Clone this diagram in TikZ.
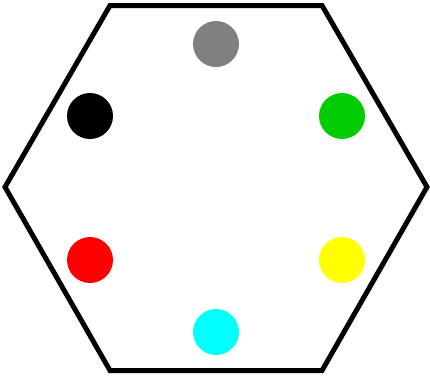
\documentclass[tikz,border=0pt]{standalone}
\begin{document}
\begin{tikzpicture}[x=1pt,y=-1pt,
  dot/.style={circle,inner sep=0pt,minimum size=46pt,draw=none}]
\useasboundingbox (0,0) rectangle (430,376);
\draw[line width=5pt,line join=miter] (110,5.5) -- (322,5.5) -- (427,187) -- (322,370.5) -- (110,370.5) -- (5,187) -- cycle;
\definecolor{cgreen}{RGB}{0,204,0}
\definecolor{cgray}{RGB}{128,128,128}
\definecolor{ccyan}{RGB}{0,255,255}
\definecolor{cyellow}{RGB}{255,255,0}
\definecolor{cred}{RGB}{255,0,0}
\node[dot,fill=cgray] (gray) at (216,44) {};
\node[dot,fill=cgreen] (green) at (342,116) {};
\node[dot,fill=cyellow] (yellow) at (342,260) {};
\node[dot,fill=ccyan] (cyan) at (216,332) {};
\node[dot,fill=cred] (red) at (90,260) {};
\node[dot,fill=black] (black) at (90,116) {};
\end{tikzpicture}
\end{document}
